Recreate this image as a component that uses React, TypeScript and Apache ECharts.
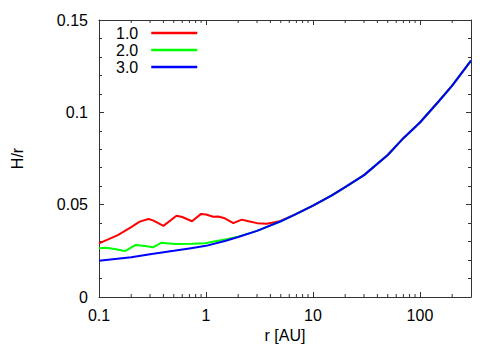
import React, { useEffect, useRef } from "react";
import * as echarts from "echarts";

const seriesNames = ["1.0", "2.0", "3.0"];
const colors = ["#ff0000", "#00ff00", "#0000ff"];

const rRed = [0.1, 0.15, 0.2, 0.24, 0.29, 0.32, 0.4, 0.53, 0.6, 0.74, 0.9, 1.0, 1.17, 1.3, 1.5, 1.8, 2.16, 2.5, 3.0, 3.7, 4.9, 6.5, 7, 10, 15, 20, 30, 50, 70, 100, 150, 200, 300];
const hRed = [0.029, 0.0335, 0.0378, 0.0408, 0.0422, 0.0415, 0.0385, 0.044, 0.0433, 0.041, 0.045, 0.0447, 0.0435, 0.0436, 0.0426, 0.04, 0.0419, 0.041, 0.04, 0.0397, 0.041, 0.0442, 0.045, 0.0495, 0.055, 0.0595, 0.066, 0.0769, 0.086, 0.0945, 0.106, 0.1145, 0.128];

const rGreen = [0.1, 0.117, 0.14, 0.175, 0.22, 0.27, 0.32, 0.385, 0.51, 0.74, 0.98, 1.26, 1.6, 2, 3, 5, 7, 10, 15, 20, 30, 50, 70, 100, 150, 200, 300];
const hGreen = [0.0264, 0.0267, 0.026, 0.0249, 0.0282, 0.0276, 0.0269, 0.0294, 0.0287, 0.0289, 0.0291, 0.0303, 0.0314, 0.0327, 0.0358, 0.041, 0.045, 0.0495, 0.055, 0.0595, 0.066, 0.0769, 0.086, 0.0945, 0.106, 0.1145, 0.128];

const rBlue = [0.1, 0.2, 0.3, 0.5, 0.7, 1, 1.5, 2, 3, 5, 7, 10, 15, 20, 30, 50, 70, 100, 150, 200, 300];
const hBlue = [0.0196, 0.0215, 0.0231, 0.025, 0.0263, 0.0277, 0.0303, 0.0325, 0.0358, 0.041, 0.045, 0.0495, 0.055, 0.0595, 0.066, 0.0769, 0.086, 0.0945, 0.106, 0.1145, 0.128];

const xMinorTicks = [0.2, 0.3, 0.4, 0.5, 0.6, 0.7, 0.8, 0.9, 2, 3, 4, 5, 6, 7, 8, 9, 20, 30, 40, 50, 60, 70, 80, 90, 200];

const FONT = "Liberation Sans, Arial, sans-serif";
const AXIS_COLOR = "#333";

function pairs(xs: number[], ys: number[]) {
  return xs.map((x, i) => [x, ys[i]]);
}

export default function App() {
  const ref = useRef<HTMLDivElement>(null);
  useEffect(() => {
    const chart = echarts.init(ref.current!, null, { renderer: "svg" });
    const axisLine = { show: true, onZero: false, lineStyle: { color: AXIS_COLOR, width: 1 } };
    const yCommon = {
      type: "value" as const,
      min: 0,
      max: 0.15,
      interval: 0.05,
      axisLine,
      splitLine: { show: false },
      axisTick: { show: true, inside: true, length: 5, lineStyle: { color: AXIS_COLOR } },
      minorTick: { show: true, splitNumber: 5, length: 3, lineStyle: { color: AXIS_COLOR } },
      minorSplitLine: { show: false },
    };
    const xCommon = {
      type: "log" as const,
      logBase: 10,
      min: 0.1,
      max: 300,
      axisLine,
      splitLine: { show: false },
      axisTick: { show: true, inside: true, length: 5, lineStyle: { color: AXIS_COLOR } },
    };
    chart.setOption({
      animation: false,
      grid: { left: 99, right: 29, top: 20, bottom: 53 },
      legend: {
        data: seriesNames,
        orient: "vertical",
        left: 116,
        top: 25,
        itemGap: 1,
        itemWidth: 46,
        itemHeight: 2.5,
        icon: "rect",
        align: "right",
        padding: 0,
        textStyle: { fontFamily: FONT, fontSize: 16, color: "#000", padding: [0, 8, 0, 0] },
      },
      xAxis: [
        {
          ...xCommon,
          position: "bottom",
          name: "r [AU]",
          nameLocation: "middle",
          nameGap: 21,
          nameTextStyle: { fontFamily: FONT, fontSize: 16, color: "#000" },
          axisLabel: { fontFamily: FONT, fontSize: 16, color: "#000", margin: 10, showMaxLabel: false },
        },
        { ...xCommon, position: "top", axisLabel: { show: false } },
      ],
      yAxis: [
        {
          ...yCommon,
          position: "left",
          name: "H/r",
          nameLocation: "middle",
          nameGap: 74,
          nameTextStyle: { fontFamily: FONT, fontSize: 16, color: "#000" },
          axisLabel: { fontFamily: FONT, fontSize: 16, color: "#000", margin: 11 },
        },
        { ...yCommon, position: "right", axisLabel: { show: false } },
      ],
      series: [
        {
          type: "custom",
          silent: true,
          clip: false,
          xAxisIndex: 0,
          yAxisIndex: 0,
          data: xMinorTicks.map((v) => [v]),
          renderItem: (params: any, api: any) => {
            const v = api.value(0);
            const b = api.coord([v, 0]);
            const t = api.coord([v, 0.15]);
            const style = { stroke: AXIS_COLOR, lineWidth: 1 };
            return {
              type: "group",
              children: [
                { type: "line", shape: { x1: b[0], y1: b[1], x2: b[0], y2: b[1] - 3 }, style },
                { type: "line", shape: { x1: t[0], y1: t[1], x2: t[0], y2: t[1] + 3 }, style },
              ],
            };
          },
        },
        ...[
          pairs(rRed, hRed),
          pairs(rGreen, hGreen),
          pairs(rBlue, hBlue),
        ].map((d, i) => ({
          name: seriesNames[i],
          type: "line",
          data: d,
          showSymbol: false,
          symbol: "none",
          lineStyle: { color: colors[i], width: 2 },
          itemStyle: { color: colors[i] },
        })),
      ],
    });
    return () => chart.dispose();
  }, []);
  return <div ref={ref} style={{ width: 500, height: 350, position: "absolute", left: 0, top: 0 }} />;
}
